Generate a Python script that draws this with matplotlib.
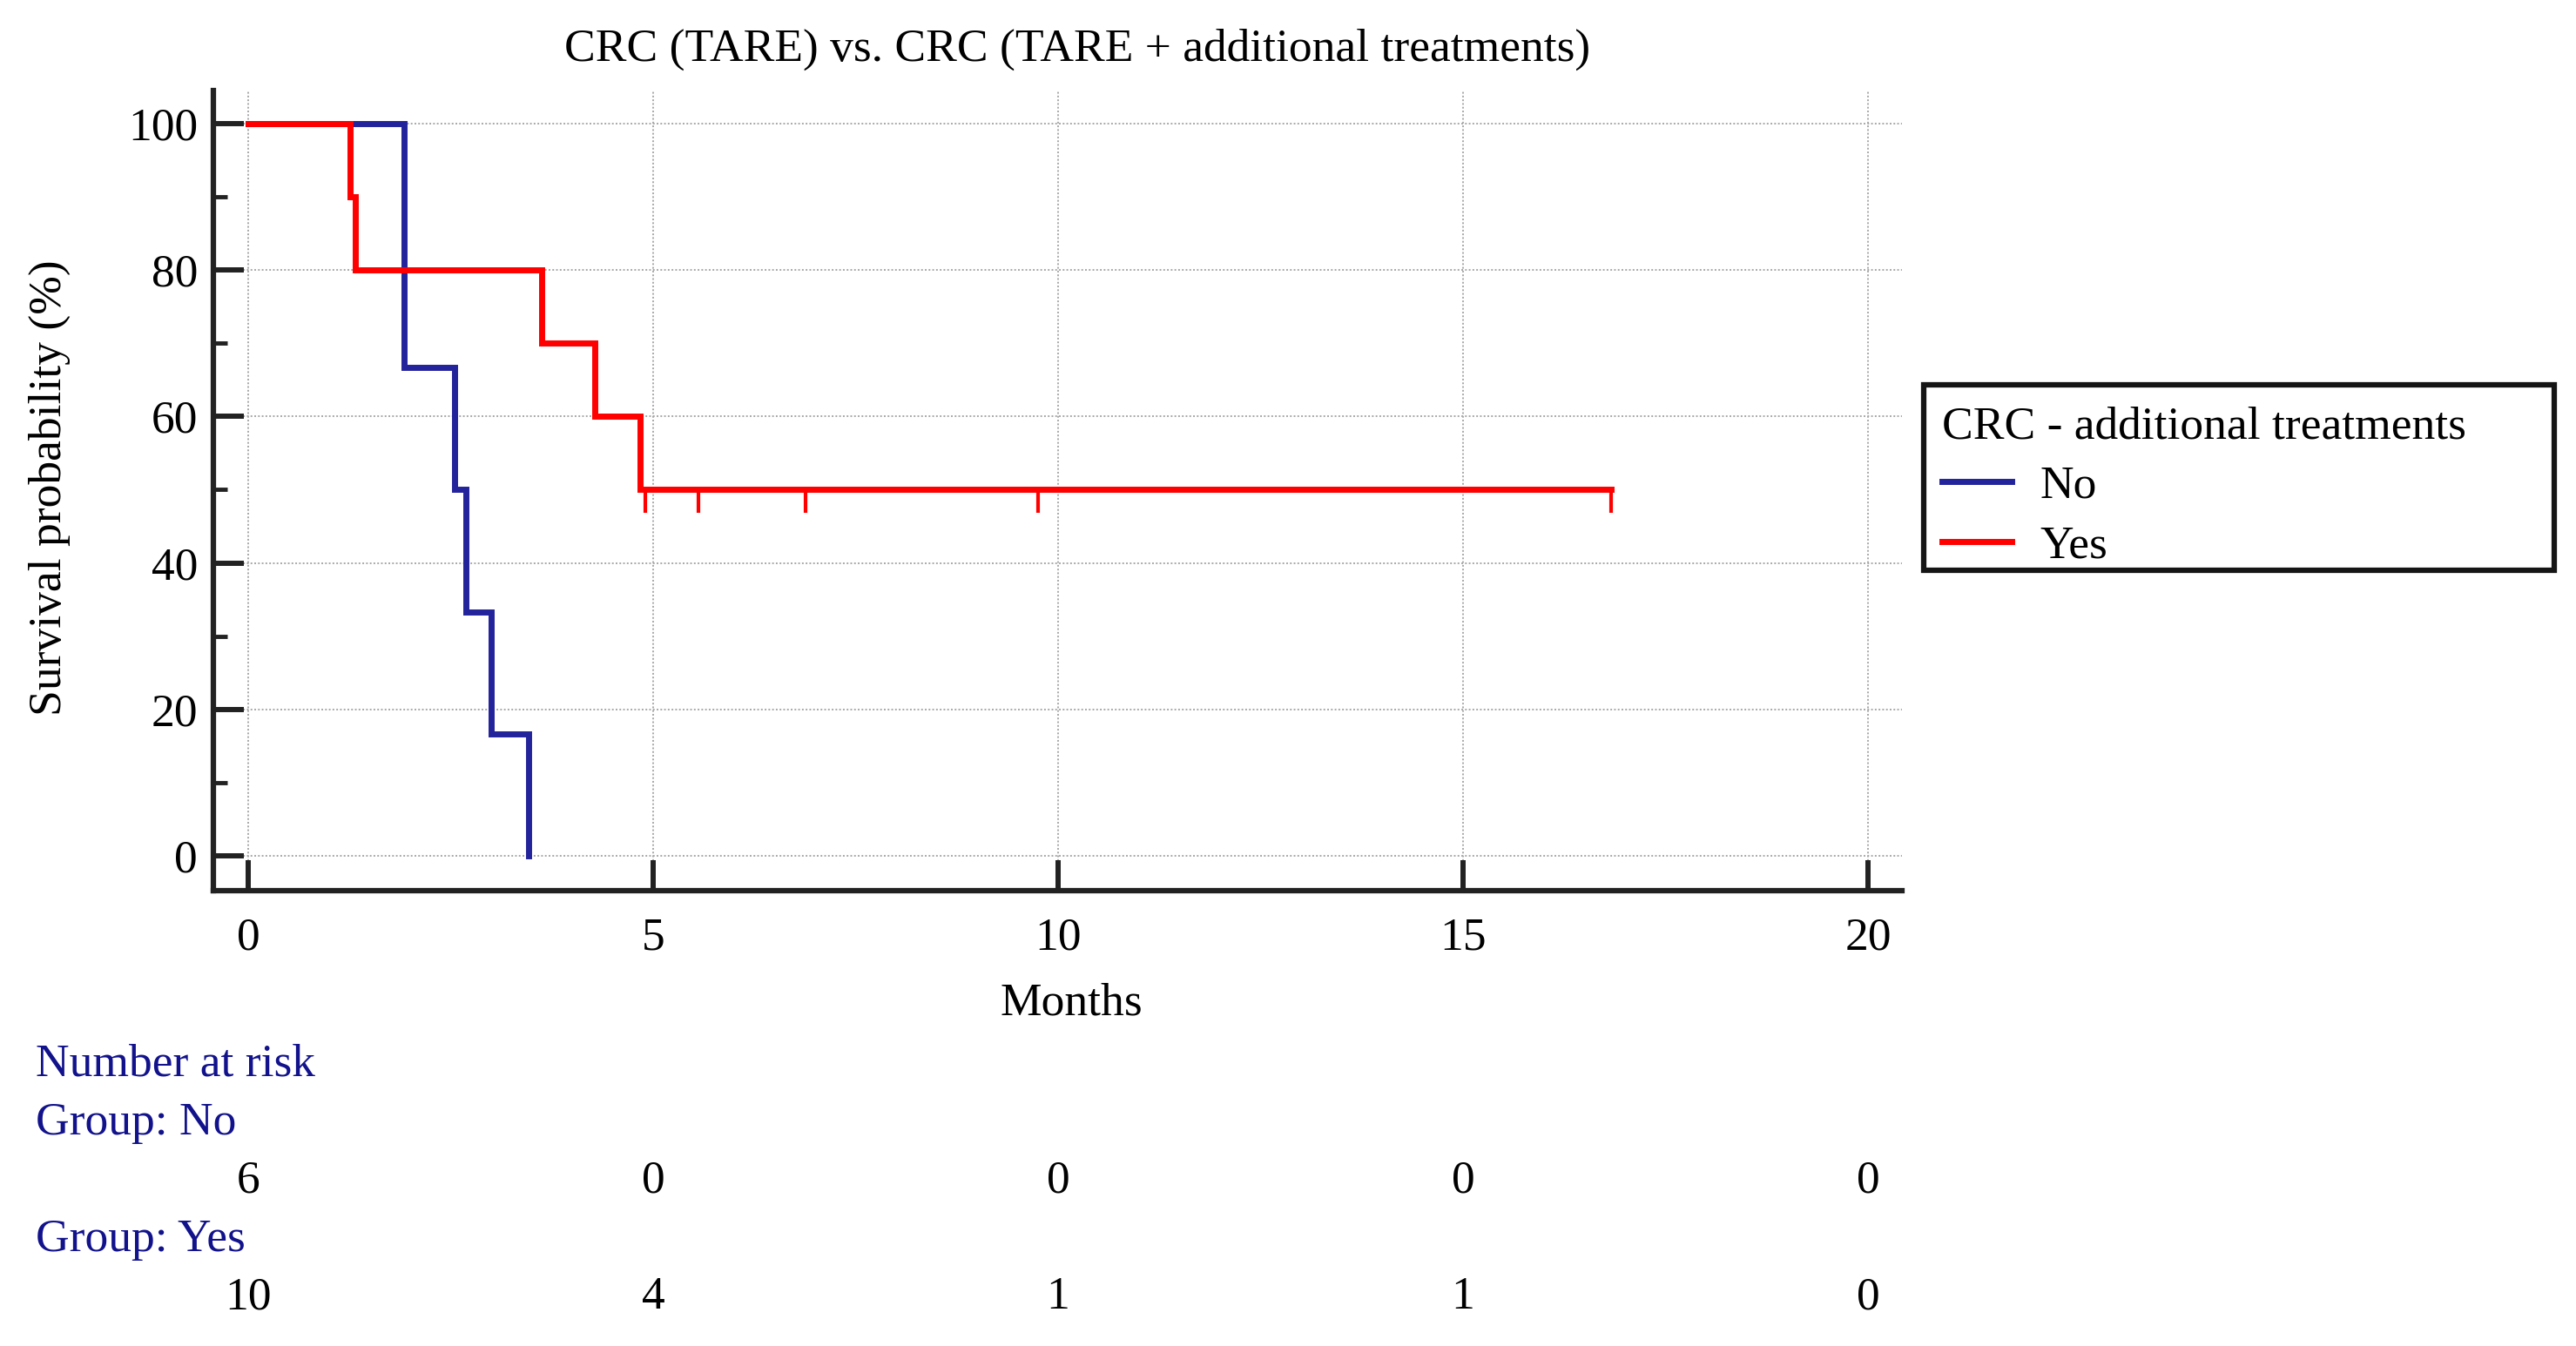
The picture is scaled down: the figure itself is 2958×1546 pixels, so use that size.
import matplotlib
matplotlib.use("Agg")
import matplotlib.pyplot as plt
from matplotlib.transforms import blended_transform_factory
from matplotlib.lines import Line2D
from matplotlib.patches import Rectangle

plt.rcParams['font.family'] = ['Liberation Serif', 'DejaVu Serif']

# ---- data ----
no_times = [0, 1.92, 2.55, 2.69, 3.00, 3.46]
no_surv = [100, 66.7, 50, 33.3, 16.7, 0]
yes_times = [0, 1.26, 1.32, 3.62, 4.28, 4.84, 16.83]
yes_surv = [100, 90, 80, 70, 60, 50, 50]
yes_censor_times = [4.90, 5.56, 6.88, 9.75, 16.83]
yes_censor_surv = [50, 50, 50, 50, 50]

risk_times = [0, 5, 10, 15, 20]
risk_no = [6, 0, 0, 0, 0]
risk_yes = [10, 4, 1, 1, 0]
x_ticks = [0, 5, 10, 15, 20]
y_ticks = [0, 20, 40, 60, 80, 100]
y_minor = [10, 30, 50, 70, 90]

title = "CRC (TARE) vs. CRC (TARE + additional treatments)"
legend_title = "CRC - additional treatments"
group_labels = ["No", "Yes"]

BLUE = '#23239B'
RED = '#FF0000'
NAVY = '#12128C'
AX = '#222222'
FS = 38.5

W, H = 2958, 1546
fig = plt.figure(figsize=(W / 100, H / 100), dpi=100)
ax = fig.add_axes([245 / W, 1 - 1022.5 / H, (2184 - 245) / W, (1022.5 - 104) / H])

ax.step(no_times, no_surv, where='post', color=BLUE, lw=5.0, solid_joinstyle='miter')
ax.step(yes_times, yes_surv, where='post', color=RED, lw=5.0, solid_joinstyle='miter')
ax.vlines(yes_censor_times, [s - 3.2 for s in yes_censor_surv], yes_censor_surv, color=RED, lw=3.0)

ax.set_xlim(-0.43, 20.42)
ax.set_ylim(-4.7, 104.5)
ax.set_xticks(x_ticks)
ax.set_yticks(y_ticks)
ax.set_yticks(y_minor, minor=True)
ax.tick_params(axis='both', which='major', direction='in', length=25, width=4.3,
               color=AX, labelsize=FS, labelcolor='black')
ax.tick_params(axis='x', pad=22)
ax.tick_params(axis='y', pad=13)
ax.tick_params(axis='y', which='minor', direction='in', length=11.5, width=3.5, color=AX)
ax.grid(True, which='major', color='#a8a8a8', linestyle=(0, (1, 1.2)), lw=1.4)
ax.set_axisbelow(True)
for s in ['top', 'right']:
    ax.spines[s].set_visible(False)
for s in ['left', 'bottom']:
    ax.spines[s].set_linewidth(4.5)
    ax.spines[s].set_color(AX)

fig.text(1237 / W, 1 - 57 / H, title, ha='center', va='center', fontsize=FS)
fig.text(1230 / W, 1 - 1153 / H, "Months", ha='center', va='center', fontsize=FS)
fig.text(57 / W, 1 - 560 / H, "Survival probability (%)", ha='center', va='center',
         rotation=90, fontsize=FS)

# legend with a hand-placed frame
fig.patches.append(Rectangle((2208.5 / W, 1 - 655 / H), (2933 - 2208.5) / W, (655 - 441.5) / H,
                             transform=fig.transFigure, fill=True, facecolor='white',
                             edgecolor='#151515', lw=4.5, zorder=1))
handles = [Line2D([], [], color=BLUE, lw=5), Line2D([], [], color=RED, lw=5)]
leg = fig.legend(handles, group_labels, title=legend_title, loc='upper left',
                 bbox_to_anchor=(2230 / W, 1 - 466 / H), fontsize=FS, title_fontsize=FS,
                 frameon=False, handlelength=1.5, handletextpad=0.6, labelspacing=0.38,
                 borderpad=0, borderaxespad=0, alignment='left')
leg.set_zorder(2)

# number at risk table
tr = blended_transform_factory(ax.transData, fig.transFigure)
fig.text(41 / W, 1 - 1222 / H, "Number at risk", ha='left', va='center', fontsize=FS, color=NAVY)
fig.text(41 / W, 1 - 1290 / H, "Group: " + group_labels[0], ha='left', va='center', fontsize=FS, color=NAVY)
fig.text(41 / W, 1 - 1424 / H, "Group: " + group_labels[1], ha='left', va='center', fontsize=FS, color=NAVY)
for t, n in zip(risk_times, risk_no):
    ax.text(t, 1 - 1356 / H, str(n), transform=tr, ha='center', va='center', fontsize=FS)
for t, n in zip(risk_times, risk_yes):
    ax.text(t, 1 - 1490 / H, str(n), transform=tr, ha='center', va='center', fontsize=FS)

fig.savefig("out.png", dpi=100)
